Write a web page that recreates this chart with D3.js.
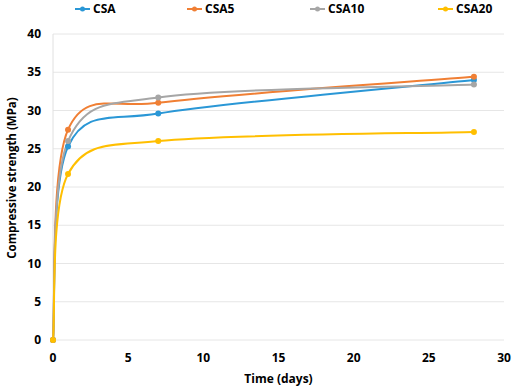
<!DOCTYPE html>
<html>
<head>
<meta charset="utf-8">
<script src="https://cdn.jsdelivr.net/npm/d3@7"></script>
<style>
  body { margin: 0; background: #fff; }
  text { font-family: "Open Sans", "Noto Sans", sans-serif; font-weight: bold; fill: #000; }
</style>
</head>
<body>
<div id="chart"></div>
<script>
// data
var days = [0, 1, 7, 28];
var seriesNames = ["CSA", "CSA5", "CSA10", "CSA20"];
var csa = [0, 25.3, 29.6, 34.0];
var csa5 = [0, 27.5, 31.0, 34.4];
var csa10 = [0, 26.0, 31.7, 33.4];
var csa20 = [0, 21.7, 26.0, 27.2];
var colors = ["#2A97D6", "#F07F34", "#A6A6A6", "#FFBF00"];
var xTicks = [0, 5, 10, 15, 20, 25, 30];
var yTicks = [0, 5, 10, 15, 20, 25, 30, 35, 40];

var allValues = [csa, csa5, csa10, csa20];

var margin = {top: 34, right: 8, bottom: 48, left: 53};

var svg = d3.select("#chart").append("svg")
    .attr("width", 512)
    .attr("height", 388);

var g = svg.append("g")
    .attr("transform", "translate(" + margin.left + "," + margin.top + ")");

var xScale = d3.scaleLinear().domain([0, 30]).range([0, 451]);
var yScale = d3.scaleLinear().domain([0, 40]).range([306, 0]);

// grid
g.selectAll(".grid")
    .data(yTicks)
    .enter().append("line")
    .attr("x1", 0).attr("x2", xScale(30))
    .attr("y1", function(d){ return yScale(d); })
    .attr("y2", function(d){ return yScale(d); })
    .style("stroke", "#e6e6e6")
    .style("stroke-width", 1);

g.append("line")
    .attr("x1", 0).attr("x2", 0)
    .attr("y1", yScale(40)).attr("y2", yScale(0))
    .style("stroke", "#e0e0e0");

// tick labels
g.selectAll(".ylab")
    .data(yTicks)
    .enter().append("text")
    .attr("x", -12)
    .attr("y", function(d){ return yScale(d); })
    .attr("dy", "0.35em")
    .attr("text-anchor", "end")
    .style("font-size", "12px")
    .text(function(d){ return d; });

g.selectAll(".xlab")
    .data(xTicks)
    .enter().append("text")
    .attr("x", function(d){ return xScale(d); })
    .attr("y", yScale(0) + 22)
    .attr("text-anchor", "middle")
    .style("font-size", "12px")
    .text(function(d){ return d; });

// axis titles
g.append("text")
    .attr("x", xScale(15))
    .attr("y", yScale(0) + 43)
    .attr("text-anchor", "middle")
    .style("font-size", "12px")
    .text("Time (days)");

svg.append("text")
    .attr("transform", "translate(16,178) rotate(-90)")
    .attr("text-anchor", "middle")
    .style("font-size", "11.5px")
    .text("Compressive strength (MPa)");

// excel-like smoothed line: bezier with control arms capped at half the segment
function smoothPath(vals){
    var p = vals.map(function(d, i){ return [xScale(days[i]), yScale(d)]; });
    var path = d3.path();
    path.moveTo(p[0][0], p[0][1]);
    function dist(a, b){ return Math.hypot(a[0]-b[0], a[1]-b[1]); }
    for(var i=0; i<p.length-1; i++){
        var p0 = p[Math.max(i-1, 0)], p1 = p[i], p2 = p[i+1], p3 = p[Math.min(i+2, p.length-1)];
        var d12 = dist(p1, p2), d02 = dist(p0, p2), d13 = dist(p1, p3);
        var f1 = d02 > 0 ? Math.min(1/6, d12/2/d02) : 0;
        var f2 = d13 > 0 ? Math.min(1/6, d12/2/d13) : 0;
        path.bezierCurveTo(
            p1[0] + (p2[0]-p0[0])*f1, p1[1] + (p2[1]-p0[1])*f1,
            p2[0] - (p3[0]-p1[0])*f2, p2[1] - (p3[1]-p1[1])*f2,
            p2[0], p2[1]);
    }
    return path.toString();
}

allValues.forEach(function(vals, k){
    g.append("path")
        .datum(vals)
        .attr("d", smoothPath)
        .style("fill", "none")
        .style("stroke", colors[k])
        .style("stroke-width", 2);
});

allValues.forEach(function(vals, k){
    g.selectAll(".pt" + k)
        .data(vals)
        .enter().append("circle")
        .attr("cx", function(d, i){ return xScale(days[i]); })
        .attr("cy", function(d){ return yScale(d); })
        .attr("r", 3)
        .style("fill", colors[k]);
});

// legend
var legendX = [75, 187, 310, 438];
seriesNames.forEach(function(name, k){
    var lg = svg.append("g").attr("transform", "translate(" + legendX[k] + ",9)");
    lg.append("line")
        .attr("x1", 0).attr("x2", 15)
        .style("stroke", colors[k]).style("stroke-width", 2);
    lg.append("circle").attr("cx", 7.5).attr("r", 2.5).style("fill", colors[k]);
    lg.append("text")
        .attr("x", 18).attr("dy", "0.35em")
        .style("font-size", "12px")
        .text(name);
});
</script>
</body>
</html>
